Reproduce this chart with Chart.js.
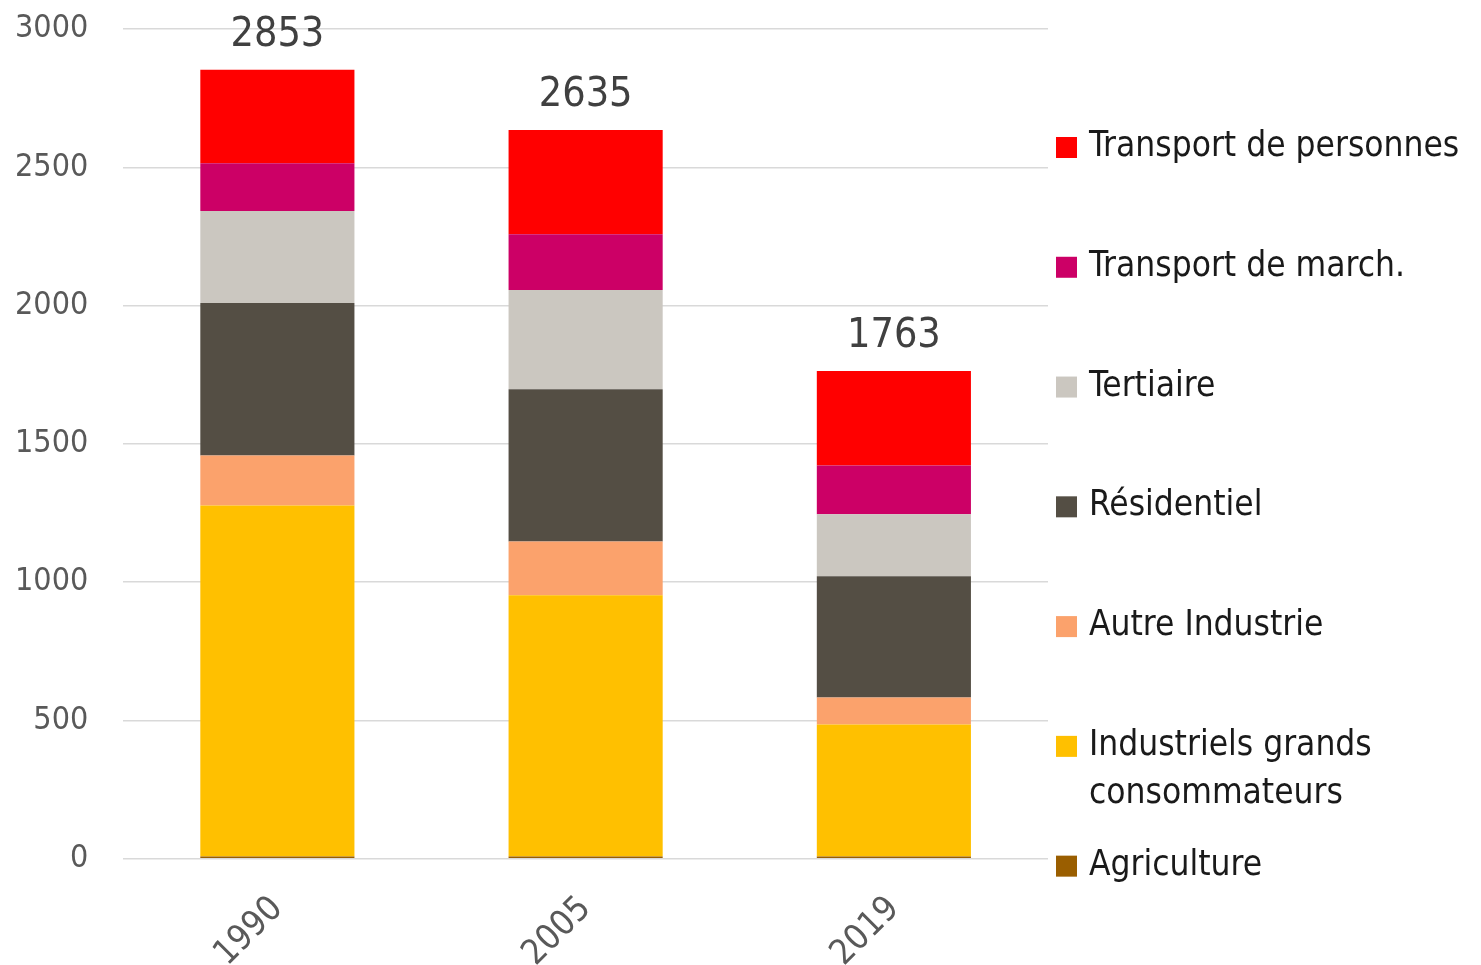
<!DOCTYPE html>
<html>
<head>
<meta charset="utf-8">
<script src="https://cdn.jsdelivr.net/npm/chart.js@4.4.1/dist/chart.umd.min.js"></script>
<style>
  html, body { margin: 0; padding: 0; background: #fff; }
  #wrap { width: 1481px; height: 965px; }
</style>
</head>
<body>
<div id="wrap"><canvas id="myChart"></canvas></div>
<script>
// Data
const years = ['1990', '2005', '2019'];
const agriculture = [8, 8, 8];
const industriels = [1269, 944, 477];
const autreIndustrie = [181, 195, 98];
const residentiel = [551, 550, 438];
const tertiaire = [333, 359, 224];
const transportMarch = [173, 202, 177];
const transportPers = [338, 377, 341];
const yTicks = [0, 500, 1000, 1500, 2000, 2500, 3000];

const FONT = "'Liberation Sans Narrow', 'DejaVu Sans Condensed', 'Roboto Condensed', sans-serif";

// Draw the stacked totals above each bar
const totalsPlugin = {
    id: 'totals',
    afterDatasetsDraw(chart) {
        const ctx = chart.ctx;
        const lastMeta = chart.getDatasetMeta(chart.data.datasets.length - 1);
        ctx.save();
        ctx.font = '41px ' + FONT;
        ctx.fillStyle = '#404040';
        ctx.textAlign = 'center';
        ctx.textBaseline = 'alphabetic';
        years.forEach((y, i) => {
            const total = chart.data.datasets.reduce((s, ds) => s + ds.data[i], 0);
            const bar = lastMeta.data[i];
            ctx.fillText(total, bar.x, bar.y - 24);
        });
        ctx.restore();
    }
};

// Legend drawn on the right, top to bottom in reverse stack order
const sideLegend = {
    id: 'sideLegend',
    afterDraw(chart) {
        const ctx = chart.ctx;
        const area = chart.chartArea;
        const items = chart.data.datasets.slice().reverse();
        const x = area.right + 8;
        const top = area.top + 118;
        const step = (area.bottom + 7 - top) / (items.length - 1);
        ctx.save();
        ctx.font = '35px ' + FONT;
        ctx.textBaseline = 'middle';
        ctx.textAlign = 'left';
        items.forEach((ds, i) => {
            const cy = top + i * step;
            ctx.fillStyle = ds.backgroundColor;
            ctx.fillRect(x, cy - 10, 21, 21);
            ctx.fillStyle = '#1a1a1a';
            ds.label.split('\n').forEach((line, j) => {
                ctx.fillText(line, x + 33, cy + j * 48);
            });
        });
        ctx.restore();
    }
};

const ctx = document.getElementById('myChart').getContext('2d');
new Chart(ctx, {
    type: 'bar',
    data: {
        labels: years,
        datasets: [
            { label: 'Agriculture', data: agriculture, backgroundColor: '#9a5e00' },
            { label: 'Industriels grands\nconsommateurs', data: industriels, backgroundColor: '#ffc000' },
            { label: 'Autre Industrie', data: autreIndustrie, backgroundColor: '#fba26c' },
            { label: 'Résidentiel', data: residentiel, backgroundColor: '#544e44' },
            { label: 'Tertiaire', data: tertiaire, backgroundColor: '#cbc7c0' },
            { label: 'Transport de march.', data: transportMarch, backgroundColor: '#cc0066' },
            { label: 'Transport de personnes', data: transportPers, backgroundColor: '#ff0000' }
        ]
    },
    options: {
        responsive: true,
        maintainAspectRatio: false,
        animation: false,
        layout: { padding: { top: 29, left: 10, right: 433, bottom: -10 } },
        datasets: { bar: { barPercentage: 0.5, categoryPercentage: 1.0, borderWidth: 0 } },
        plugins: {
            legend: { display: false },
            tooltip: { enabled: false }
        },
        scales: {
            x: {
                stacked: true,
                grid: { display: false, drawTicks: true, tickLength: 30 },
                border: { display: false },
                ticks: {
                    color: '#595959',
                    font: { family: FONT, size: 35 },
                    minRotation: 45,
                    maxRotation: 45,
                    padding: 0
                }
            },
            y: {
                stacked: true,
                min: 0,
                max: 3000,
                afterBuildTicks(axis) {
                    axis.ticks = yTicks.map(v => ({ value: v }));
                },
                grid: { color: '#d9d9d9', lineWidth: 1.5, drawTicks: true, tickLength: 30, tickColor: 'rgba(0,0,0,0)' },
                border: { display: false },
                ticks: {
                    color: '#595959',
                    font: { family: FONT, size: 32 },
                    padding: 5,
                    callback: v => String(v)
                }
            }
        }
    },
    plugins: [totalsPlugin, sideLegend]
});
</script>
</body>
</html>
